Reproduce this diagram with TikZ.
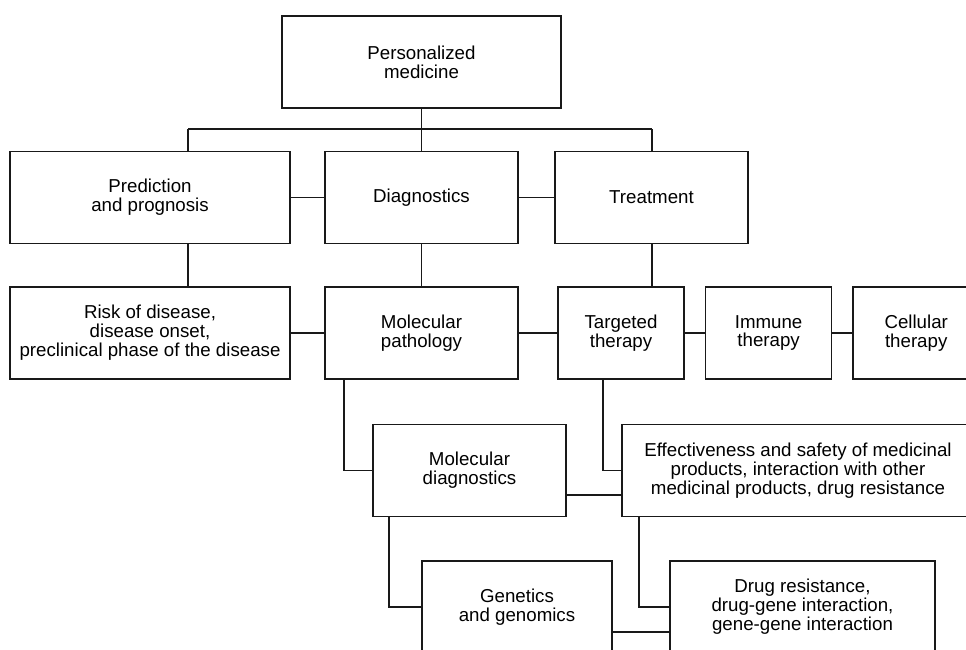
\documentclass[tikz,border=0pt]{standalone}
\usepackage{fontspec}
\setmainfont{Liberation Sans}
\usetikzlibrary{positioning,calc}

\begin{document}
\begin{tikzpicture}[x=1pt, y=-1pt,
  box/.style={rectangle, draw=black!90, line width=1.6pt, fill=white, align=center, inner sep=2pt, minimum height=92pt, font=\fontsize{18.7}{18.9}\selectfont},
  link/.style={draw=black!90, line width=1.6pt}
]
\clip (0,0) rectangle (966,649);
\node[box, minimum width=279pt] (pm) at (421.5,62) {Personalized\\medicine};
\node[box, minimum width=280pt] (pred) at (150,197.5) {Prediction\\and prognosis};
\node[box, minimum width=193pt] (diag) at (421.5,197.5) {Diagnostics};
\node[box, minimum width=193pt] (treat) at (651.5,197.5) {Treatment};
\node[box, minimum width=280pt] (risk) at (150,333) {Risk of disease,\\disease onset,\\preclinical phase of the disease};
\node[box, minimum width=193pt] (molpath) at (421.5,333) {Molecular\\pathology};
\node[box, minimum width=126pt] (targ) at (621,333) {Targeted\\therapy};
\node[box, minimum width=126pt, right=20pt of targ] (immune) {Immune\\therapy};
\node[box, minimum width=126pt, right=20pt of immune] (cell) {Cellular\\therapy};
\node[box, minimum width=193pt] (moldiag) at (469.5,470.5) {Molecular\\diagnostics};
\node[box, minimum width=352pt] (effect) at (798,470.5) {Effectiveness and safety of medicinal\\products, interaction with other\\medicinal products, drug resistance};
\node[box, minimum width=190pt] (genet) at (517,607) {Genetics\\and genomics};
\node[box, minimum width=265pt] (drug) at (802.5,607) {Drug resistance,\\drug-gene interaction,\\gene-gene interaction};
% tree bus
\coordinate (busL) at (188,129);
\coordinate (busR) at (652,129);
\draw[link] (pm) -- (diag);
\draw[link] (busL) -- (busR);
\draw[link] (busL) -- (busL |- pred.north);
\draw[link] (busR) -- (busR |- treat.north);
\draw[link] (pred) -- (diag);
\draw[link] (diag) -- (treat);
\draw[link] (busL |- pred.south) -- (busL |- risk.north);
\draw[link] (diag) -- (molpath);
\draw[link] (busR |- treat.south) -- (busR |- targ.north);
\draw[link] (risk) -- (molpath);
\draw[link] (molpath) -- (targ);
\draw[link] (targ) -- (immune);
\draw[link] (immune) -- (cell);
% lower branches
\draw[link] ([xshift=20pt]molpath.south west) |- (moldiag.west);
\draw[link] ([xshift=46pt]targ.south west) |- (effect.west);
\draw[link] ([yshift=-24.5pt]moldiag.east) -- ([yshift=-24.5pt]effect.west);
\draw[link] ([xshift=17pt]moldiag.south west) |- (genet.west);
\draw[link] ([xshift=18pt]effect.south west) |- (drug.west);
\draw[link] ([yshift=-25pt]genet.east) -- ([yshift=-25pt]drug.west);
\end{tikzpicture}
\end{document}
